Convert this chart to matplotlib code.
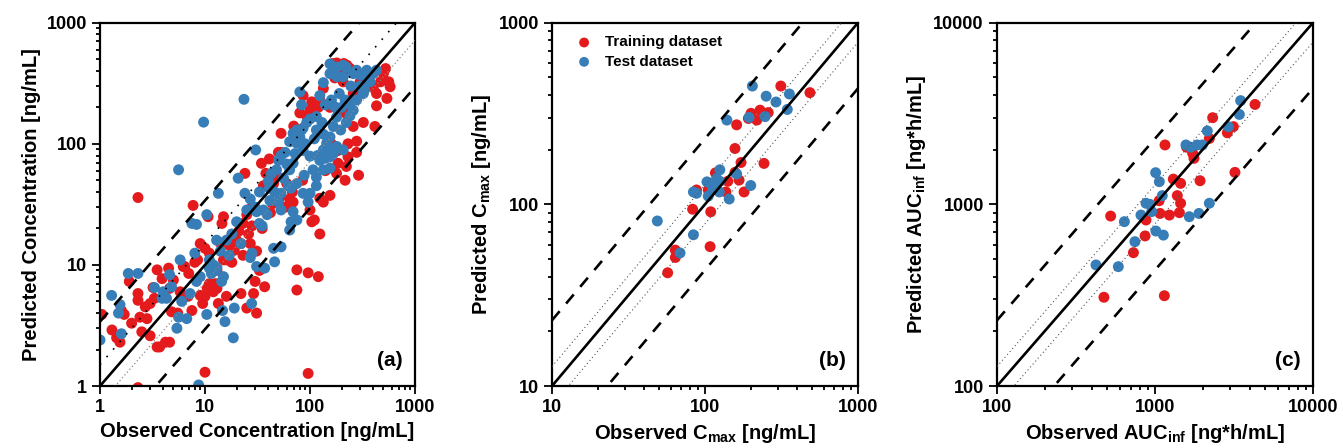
import matplotlib
matplotlib.use('Agg')
import matplotlib.pyplot as plt
import numpy as np

plt.rcParams['font.family'] = ['Liberation Sans', 'DejaVu Sans']
plt.rcParams['font.weight'] = 'bold'
plt.rcParams['mathtext.fontset'] = 'custom'
plt.rcParams['mathtext.rm'] = 'Liberation Sans:bold'
plt.rcParams['mathtext.bf'] = 'Liberation Sans:bold'
plt.rcParams['mathtext.it'] = 'Liberation Sans:bold:italic'

RED = '#E41A1C'
BLUE = '#377EB8'

# (observed, predicted) pairs
a_train = [(2.3, 36), (1.04, 3.9), (1.7, 3.9), (1.44, 2.5), (1.55, 2.3), (1.9, 7.3), (2.3, 5.8), (2.3, 5.1),
           (2.4, 3.7), (2.5, 2.8), (2.7, 4.5), (3.0, 4.8), (3.3, 5.3), (3.5, 9.1), (4.5, 9.4), (3.9, 7.7),
           (4.6, 6.4), (4.8, 4.1), (6.2, 9.7), (3.7, 2.1), (4.2, 2.3), (4.6, 2.3), (3.5, 2.1), (6.9, 5.5),
           (10, 1.3), (9.0, 5.6), (10, 5.5), (10.5, 6.4), (13.4, 4.8), (16, 5.5), (22, 5.8), (25, 4.4),
           (31, 4.0), (29, 5.8), (30, 7.3), (37, 6.6), (33, 9.0), (75, 6.2), (75, 9.1), (96, 8.6), (120, 8.0),
           (96, 1.27), (7.7, 31), (10.7, 25), (15, 25), (14.5, 22), (9, 15), (10, 13.7), (6.4, 9.7), (11, 12.5),
           (14, 15.2), (17, 14.5), (19, 13.2), (23, 12), (24, 57), (34.5, 69), (41, 75), (53, 122), (50, 85),
           (38, 57), (45, 47), (52, 36.5), (60, 47), (64, 35), (69, 33), (124, 35.5), (155, 37.5), (104, 22.7),
           (110, 23.5), (124, 18), (100, 28.4), (134, 33), (179, 57), (216, 50), (222, 65), (290, 55),
           (185, 69), (230, 78), (278, 105), (278, 85), (230, 100), (185, 88), (258, 139), (322, 150),
           (415, 139), (430, 206), (430, 260), (540, 237), (580, 296), (563, 325), (500, 380), (525, 418),
           (470, 325), (400, 290), (322, 270), (300, 325), (258, 260), (207, 325), (134, 287), (124, 230),
           (104, 222), (100, 190), (86, 250), (80, 180), (93, 170), (120, 200), (155, 200), (185, 190),
           (216, 180), (185, 380), (172, 350), (195, 360), (220, 410), (240, 420), (270, 395), (165, 460),
           (180, 465), (210, 460), (225, 445), (53, 85), (48, 55), (36, 45), (27, 29), (25, 26), (23, 22),
           (21, 19), (22, 15), (27, 15), (31, 13), (18, 15), (16, 11), (13, 9), (11, 7), (12, 6), (13, 6.4),
           (8.5, 11), (7, 8.5), (5.5, 4), (2.0, 3.3), (2.8, 3.6), (3.2, 6.5), (5.0, 7.5), (5.8, 6.0),
           (8.0, 10.5), (12, 9.5), (15, 11), (20, 16), (26, 18), (35, 20), (42, 27), (58, 30), (68, 40),
           (85, 50), (140, 60), (160, 100), (70, 140), (44, 32), (28, 21), (18, 10.5), (12.5, 7), (9.5, 4.8),
           (7.5, 4.2), (1.3, 2.9), (1.6, 4.2), (3.0, 2.6), (2.3, 0.97)]

a_test = [(23.5, 233), (9.7, 151), (5.6, 61), (1.0, 2.4), (1.29, 5.6), (1.55, 4.7), (1.5, 4.0), (1.6, 2.7),
          (1.86, 8.5), (2.3, 8.5), (4.6, 8.3), (5.8, 11), (4.8, 6.6), (4.3, 5.3), (3.9, 5.3), (5.4, 3.0),
          (5.6, 3.7), (6.7, 3.6), (7.2, 5.8), (8.3, 7.3), (10.4, 3.9), (8.7, 1.02), (15.5, 3.4), (14.7, 4.2),
          (18.6, 2.5), (19, 4.4), (27.8, 4.8), (7.5, 22), (8.3, 21.6), (10.4, 26), (8, 12.5), (12.9, 16),
          (13.4, 39), (20, 22.7), (20.7, 52), (24, 39), (30.4, 89), (25, 28.4), (12, 10), (11, 9.4),
          (11.5, 8.5), (12.5, 9), (14.4, 7.3), (15, 8), (45, 13.7), (53, 14.1), (46, 10.6), (37, 9.4),
          (31, 9.7), (28, 12.5), (27, 11.5), (64, 19.4), (66, 22.7), (75, 23.5), (69, 27.5), (53, 28.4),
          (41.5, 34), (36, 28.4), (33, 22), (31, 27.5), (39, 26), (43, 57), (48, 61), (56, 52), (64, 61),
          (69, 69), (72, 83), (75, 101), (80, 114), (83, 130), (75, 120), (86, 88), (100, 79), (100, 39),
          (96, 33), (86, 39), (115, 45), (107, 61), (124, 73), (134, 89), (144, 101), (155, 114), (167, 139),
          (134, 120), (115, 130), (179, 166), (172, 202), (160, 230), (216, 230), (241, 216), (278, 230),
          (322, 260), (373, 325), (400, 380), (430, 405), (258, 380), (207, 358), (180, 358), (155, 380),
          (155, 457), (180, 430), (207, 445), (220, 430), (278, 405), (300, 370), (347, 405), (134, 320),
          (124, 250), (80, 268), (83, 210), (140, 210), (115, 168), (100, 160), (93, 150), (86, 135),
          (75, 130), (69, 122), (64, 104), (58, 85), (53, 80), (50, 73), (75, 47), (66, 43), (53, 39),
          (46, 40), (41, 43), (115, 53), (134, 61), (155, 63), (167, 83), (207, 89), (258, 189), (222, 150),
          (196, 130), (140, 76), (155, 78), (180, 95), (30, 30), (27, 35), (18, 18), (16, 16), (14, 13),
          (11, 11), (33, 40), (40, 49), (60, 68), (90, 100), (110, 110), (130, 150), (200, 200), (190, 260),
          (245, 300), (300, 300), (350, 350), (4.0, 6.0), (3.3, 6.5), (6.0, 5.0), (9.0, 8.0), (13, 9.5),
          (17, 12), (22, 15), (35, 21), (50, 33), (62, 45), (88, 55), (118, 80), (150, 95), (240, 170),
          (330, 280)]

b_train = [(313, 448), (485, 412), (161, 274), (200, 317), (229, 330), (259, 320), (218, 291), (192, 297),
           (157, 203), (172, 170), (243, 168), (157, 150), (167, 136), (141, 134), (137, 117), (180, 117),
           (117, 149), (105, 120), (88, 120), (83, 94), (109, 91), (108, 58.5), (64, 56), (64, 51), (57, 42)]
b_test = [(204, 448), (251, 394), (291, 366), (356, 405), (345, 333), (139, 291), (194, 301), (247, 304),
          (125, 155), (161, 147), (199, 127), (103, 133), (116, 128), (119, 139), (125, 134), (124, 117),
          (112, 122), (105, 111), (84, 117), (88, 115), (144, 107), (48.8, 81), (84, 68), (68.7, 54)]

c_train = [(4295, 3548), (2317, 3000), (3133, 2677), (2870, 2478), (2208, 2305), (1157, 2123), (1585, 2063),
           (1730, 1910), (1765, 1792), (3206, 1500), (1928, 1349), (1306, 1377), (1452, 1305), (1384, 1117),
           (1452, 1014), (1427, 900), (1233, 873), (1076, 891), (1062, 1047), (877, 820), (865, 670),
           (730, 542), (524, 862), (475, 308), (1146, 314)]
c_test = [(3483, 3724), (3419, 3126), (2911, 2677), (2143, 2535), (1570, 2123), (1683, 2065), (1854, 2123),
          (1995, 2123), (1009, 1494), (1065, 1333), (1112, 1117), (877, 1014), (929, 1000), (815, 873),
          (953, 912), (1013, 713), (1130, 677), (2208, 1014), (1648, 855), (1897, 891), (640, 803),
          (746, 623), (423, 464), (586, 454)]

panel_limits = [(1, 1000), (10, 1000), (100, 10000)]
panel_ticks = [[1, 10, 100, 1000], [10, 100, 1000], [100, 1000, 10000]]
panel_tags = ['(a)', '(b)', '(c)']
xlabels = ['Observed Concentration [ng/mL]', r'Observed C$_{\mathbf{max}}$ [ng/mL]',
           r'Observed AUC$_{\mathbf{inf}}$ [ng*h/mL]']
ylabels = ['Predicted Concentration [ng/mL]', r'Predicted C$_{\mathbf{max}}$ [ng/mL]',
           r'Predicted AUC$_{\mathbf{inf}}$ [ng*h/mL]']
dash_fold = [3.4, 2.3, 2.3]
dot_fold_up = [1.5, 1.28, 1.28]
dot_fold_lo = [1.4, 1.28, 1.28]
legend_labels = ['Training dataset', 'Test dataset']

data = [(a_train, a_test), (b_train, b_test), (c_train, c_test)]

fig = plt.figure(figsize=(13.43, 4.48), dpi=100)
H = 448.0
W = 1343.0
boxes = [(100, 315), (552, 306), (997, 316)]
bottom = 1 - 386 / H
height = 363.3 / H

for i in range(3):
    left, width = boxes[i]
    ax = fig.add_axes([left / W, bottom, width / W, height])
    lo, hi = panel_limits[i]
    xs = np.array([lo, hi], dtype=float)
    ax.set_xscale('log')
    ax.set_yscale('log')
    ax.set_xlim(lo, hi)
    ax.set_ylim(lo, hi)

    ax.plot(xs, xs, color='black', lw=1.9, zorder=3)
    k = dash_fold[i]
    ax.plot(xs, xs * k, color='black', lw=1.9, dashes=(4.5, 3.8), zorder=3)
    ax.plot(xs, xs / k, color='black', lw=1.9, dashes=(4.5, 3.8), zorder=3)
    if i == 0:
        ax.plot(xs, xs * dot_fold_up[i], color='black', lw=1.2, ls=(0, (1, 5)), zorder=3)
        ax.plot(xs, xs / dot_fold_lo[i], color='#888888', lw=0.9, ls=(0, (1, 2)), zorder=3)
    else:
        ax.plot(xs, xs * dot_fold_up[i], color='#555555', lw=0.8, ls=(0, (1, 2.5)), zorder=3)
        ax.plot(xs, xs / dot_fold_lo[i], color='#555555', lw=0.8, ls=(0, (1, 2.5)), zorder=3)

    train, test = data[i]
    tr_o, tr_p = zip(*train)
    te_o, te_p = zip(*test)
    ax.scatter(tr_o, tr_p, s=62, color=RED, edgecolors='none', zorder=2, label=legend_labels[0])
    ax.scatter(te_o, te_p, s=62, color=BLUE, edgecolors='none', zorder=2, label=legend_labels[1])

    ax.set_xticks(panel_ticks[i])
    ax.set_yticks(panel_ticks[i])
    ax.set_xticklabels([str(t) for t in panel_ticks[i]])
    ax.set_yticklabels([str(t) for t in panel_ticks[i]])
    ax.tick_params(which='both', direction='out', top=False, right=False, width=1.3)
    ax.tick_params(which='major', length=5.5, labelsize=13, pad=4)
    ax.tick_params(which='minor', length=3)
    for lab in ax.get_xticklabels() + ax.get_yticklabels():
        lab.set_fontweight('bold')
    for sp in ax.spines.values():
        sp.set_linewidth(1.6)

    ax.set_xlabel(xlabels[i], fontsize=14.5, fontweight='bold', labelpad=4)
    ax.set_ylabel(ylabels[i], fontsize=14.5, fontweight='bold', labelpad=4)
    ax.text(0.96, 0.07, panel_tags[i], transform=ax.transAxes, ha='right', va='center',
            fontsize=15, fontweight='bold')

    if i == 1:
        ax.legend(loc='upper left', bbox_to_anchor=(0.025, 0.99), frameon=False,
                  handletextpad=0.4, labelspacing=0.35, markerscale=0.9, borderaxespad=0.2,
                  prop={'weight': 'bold', 'size': 11})

fig.savefig('out.png', dpi=100)
